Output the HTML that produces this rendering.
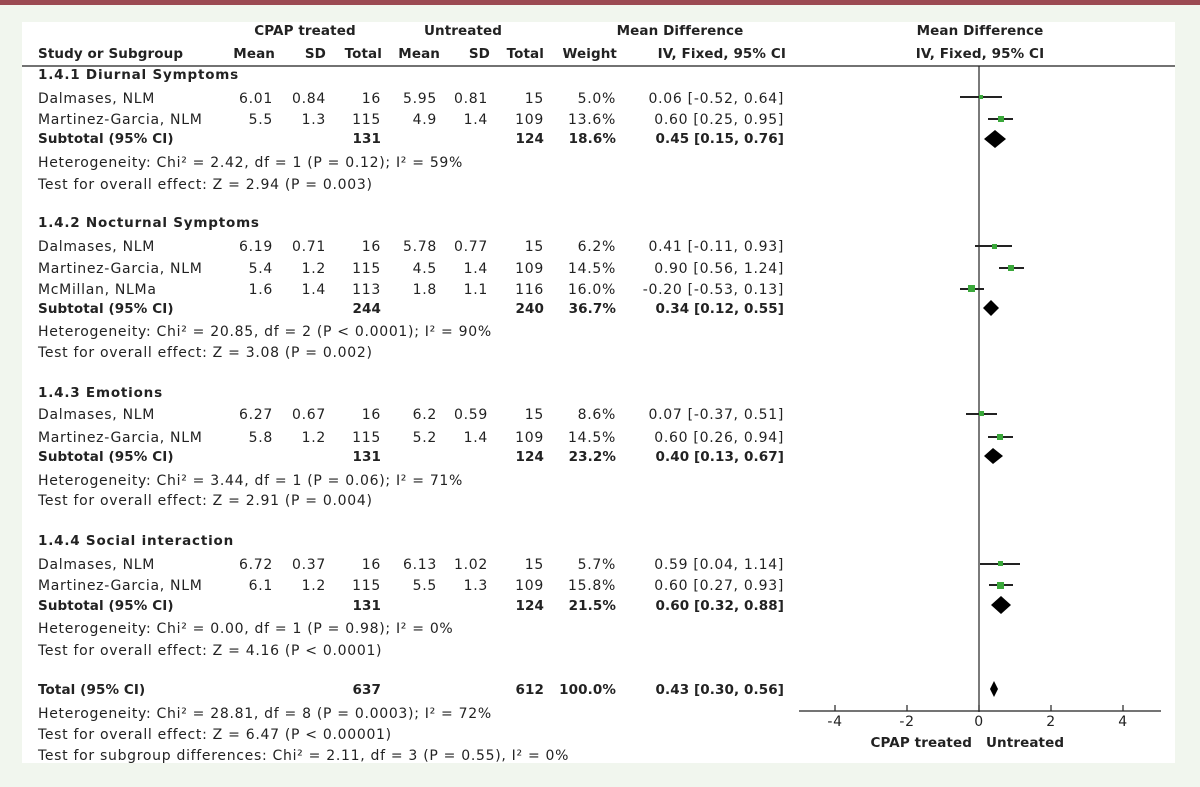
<!DOCTYPE html>
<html><head><meta charset="utf-8"><style>
html,body{margin:0;padding:0;background:#f1f6ee;}
svg{display:block;}
text{font-family:"DejaVu Sans","Liberation Sans",sans-serif;font-size:14px;letter-spacing:0.7px;fill:#222;}
.b{font-weight:bold;font-size:13.5px;letter-spacing:0.1px;}
.e{text-anchor:end;}
.m{text-anchor:middle;}
</style></head><body>
<svg width="1200" height="787" viewBox="0 0 1200 787" xmlns="http://www.w3.org/2000/svg">
<rect x="0" y="0" width="1200" height="787" fill="#f1f6ee"/>
<rect x="0" y="0" width="1200" height="5" fill="#9b4a52"/>
<rect x="22" y="22" width="1153" height="741" fill="#fff"/>
<text class="b m" x="305" y="35">CPAP treated</text>
<text class="b m" x="463" y="35">Untreated</text>
<text class="b m" x="680" y="35">Mean Difference</text>
<text class="b m" x="980" y="35">Mean Difference</text>
<text class="b" x="38" y="58">Study or Subgroup</text>
<text class="b e" x="275" y="58">Mean</text>
<text class="b e" x="326" y="58">SD</text>
<text class="b e" x="382" y="58">Total</text>
<text class="b e" x="440" y="58">Mean</text>
<text class="b e" x="490" y="58">SD</text>
<text class="b e" x="544" y="58">Total</text>
<text class="b e" x="617" y="58">Weight</text>
<text class="b e" x="786" y="58">IV, Fixed, 95% CI</text>
<text class="b m" x="980" y="58">IV, Fixed, 95% CI</text>
<line x1="22" y1="66" x2="1175" y2="66" stroke="#444" stroke-width="1.5"/>
<line x1="979" y1="66" x2="979" y2="712" stroke="#222" stroke-width="1.2"/>
<line x1="799" y1="711" x2="1161" y2="711" stroke="#222" stroke-width="1.2"/>
<g stroke="#222" stroke-width="1.2">
<line x1="835" y1="705" x2="835" y2="711"/><line x1="907" y1="705" x2="907" y2="711"/><line x1="979" y1="705" x2="979" y2="711"/><line x1="1051" y1="705" x2="1051" y2="711"/><line x1="1123" y1="705" x2="1123" y2="711"/>
</g>
<text class="m" x="835" y="726">-4</text><text class="m" x="907" y="726">-2</text><text class="m" x="979" y="726">0</text><text class="m" x="1051" y="726">2</text><text class="m" x="1123" y="726">4</text>
<text class="b e" x="972" y="747">CPAP treated</text>
<text class="b" x="986" y="747">Untreated</text>

<text class="b" x="38" y="79" style="letter-spacing:0.8px">1.4.1 Diurnal Symptoms</text>
<text x="38" y="103">Dalmases, NLM</text><text class="e" x="273" y="103">6.01</text><text class="e" x="326" y="103">0.84</text><text class="e" x="381" y="103">16</text><text class="e" x="437" y="103">5.95</text><text class="e" x="488" y="103">0.81</text><text class="e" x="544" y="103">15</text><text class="e" x="616" y="103">5.0%</text><text class="e" x="784" y="103">0.06 [-0.52, 0.64]</text>
<text x="38" y="124">Martinez-Garcia, NLM</text><text class="e" x="273" y="124">5.5</text><text class="e" x="326" y="124">1.3</text><text class="e" x="381" y="124">115</text><text class="e" x="437" y="124">4.9</text><text class="e" x="488" y="124">1.4</text><text class="e" x="544" y="124">109</text><text class="e" x="616" y="124">13.6%</text><text class="e" x="784" y="124">0.60 [0.25, 0.95]</text>
<text class="b" x="38" y="143">Subtotal (95% CI)</text><text class="b e" x="381" y="143">131</text><text class="b e" x="544" y="143">124</text><text class="b e" x="616" y="143">18.6%</text><text class="b e" x="784" y="143">0.45 [0.15, 0.76]</text>
<text x="38" y="167">Heterogeneity: Chi² = 2.42, df = 1 (P = 0.12); I² = 59%</text>
<text x="38" y="189">Test for overall effect: Z = 2.94 (P = 0.003)</text>

<text class="b" x="38" y="227" style="letter-spacing:0.8px">1.4.2 Nocturnal Symptoms</text>
<text x="38" y="251">Dalmases, NLM</text><text class="e" x="273" y="251">6.19</text><text class="e" x="326" y="251">0.71</text><text class="e" x="381" y="251">16</text><text class="e" x="437" y="251">5.78</text><text class="e" x="488" y="251">0.77</text><text class="e" x="544" y="251">15</text><text class="e" x="616" y="251">6.2%</text><text class="e" x="784" y="251">0.41 [-0.11, 0.93]</text>
<text x="38" y="273">Martinez-Garcia, NLM</text><text class="e" x="273" y="273">5.4</text><text class="e" x="326" y="273">1.2</text><text class="e" x="381" y="273">115</text><text class="e" x="437" y="273">4.5</text><text class="e" x="488" y="273">1.4</text><text class="e" x="544" y="273">109</text><text class="e" x="616" y="273">14.5%</text><text class="e" x="784" y="273">0.90 [0.56, 1.24]</text>
<text x="38" y="294">McMillan, NLMa</text><text class="e" x="273" y="294">1.6</text><text class="e" x="326" y="294">1.4</text><text class="e" x="381" y="294">113</text><text class="e" x="437" y="294">1.8</text><text class="e" x="488" y="294">1.1</text><text class="e" x="544" y="294">116</text><text class="e" x="616" y="294">16.0%</text><text class="e" x="784" y="294">-0.20 [-0.53, 0.13]</text>
<text class="b" x="38" y="313">Subtotal (95% CI)</text><text class="b e" x="381" y="313">244</text><text class="b e" x="544" y="313">240</text><text class="b e" x="616" y="313">36.7%</text><text class="b e" x="784" y="313">0.34 [0.12, 0.55]</text>
<text x="38" y="336">Heterogeneity: Chi² = 20.85, df = 2 (P &lt; 0.0001); I² = 90%</text>
<text x="38" y="357">Test for overall effect: Z = 3.08 (P = 0.002)</text>

<text class="b" x="38" y="397" style="letter-spacing:0.8px">1.4.3 Emotions</text>
<text x="38" y="419">Dalmases, NLM</text><text class="e" x="273" y="419">6.27</text><text class="e" x="326" y="419">0.67</text><text class="e" x="381" y="419">16</text><text class="e" x="437" y="419">6.2</text><text class="e" x="488" y="419">0.59</text><text class="e" x="544" y="419">15</text><text class="e" x="616" y="419">8.6%</text><text class="e" x="784" y="419">0.07 [-0.37, 0.51]</text>
<text x="38" y="442">Martinez-Garcia, NLM</text><text class="e" x="273" y="442">5.8</text><text class="e" x="326" y="442">1.2</text><text class="e" x="381" y="442">115</text><text class="e" x="437" y="442">5.2</text><text class="e" x="488" y="442">1.4</text><text class="e" x="544" y="442">109</text><text class="e" x="616" y="442">14.5%</text><text class="e" x="784" y="442">0.60 [0.26, 0.94]</text>
<text class="b" x="38" y="461">Subtotal (95% CI)</text><text class="b e" x="381" y="461">131</text><text class="b e" x="544" y="461">124</text><text class="b e" x="616" y="461">23.2%</text><text class="b e" x="784" y="461">0.40 [0.13, 0.67]</text>
<text x="38" y="485">Heterogeneity: Chi² = 3.44, df = 1 (P = 0.06); I² = 71%</text>
<text x="38" y="505">Test for overall effect: Z = 2.91 (P = 0.004)</text>

<text class="b" x="38" y="545" style="letter-spacing:0.8px">1.4.4 Social interaction</text>
<text x="38" y="569">Dalmases, NLM</text><text class="e" x="273" y="569">6.72</text><text class="e" x="326" y="569">0.37</text><text class="e" x="381" y="569">16</text><text class="e" x="437" y="569">6.13</text><text class="e" x="488" y="569">1.02</text><text class="e" x="544" y="569">15</text><text class="e" x="616" y="569">5.7%</text><text class="e" x="784" y="569">0.59 [0.04, 1.14]</text>
<text x="38" y="590">Martinez-Garcia, NLM</text><text class="e" x="273" y="590">6.1</text><text class="e" x="326" y="590">1.2</text><text class="e" x="381" y="590">115</text><text class="e" x="437" y="590">5.5</text><text class="e" x="488" y="590">1.3</text><text class="e" x="544" y="590">109</text><text class="e" x="616" y="590">15.8%</text><text class="e" x="784" y="590">0.60 [0.27, 0.93]</text>
<text class="b" x="38" y="610">Subtotal (95% CI)</text><text class="b e" x="381" y="610">131</text><text class="b e" x="544" y="610">124</text><text class="b e" x="616" y="610">21.5%</text><text class="b e" x="784" y="610">0.60 [0.32, 0.88]</text>
<text x="38" y="633">Heterogeneity: Chi² = 0.00, df = 1 (P = 0.98); I² = 0%</text>
<text x="38" y="655">Test for overall effect: Z = 4.16 (P &lt; 0.0001)</text>

<text class="b" x="38" y="694">Total (95% CI)</text><text class="b e" x="381" y="694">637</text><text class="b e" x="544" y="694">612</text><text class="b e" x="616" y="694">100.0%</text><text class="b e" x="784" y="694">0.43 [0.30, 0.56]</text>
<text x="38" y="718">Heterogeneity: Chi² = 28.81, df = 8 (P = 0.0003); I² = 72%</text>
<text x="38" y="739">Test for overall effect: Z = 6.47 (P &lt; 0.00001)</text>
<text x="38" y="760">Test for subgroup differences: Chi² = 2.11, df = 3 (P = 0.55), I² = 0%</text>

<g stroke="#222" stroke-width="2">
<line x1="960" y1="97" x2="1002" y2="97"/>
<line x1="988" y1="119" x2="1013" y2="119"/>
<line x1="975" y1="246" x2="1012" y2="246"/>
<line x1="999" y1="268" x2="1024" y2="268"/>
<line x1="960" y1="289" x2="984" y2="289"/>
<line x1="966" y1="414" x2="997" y2="414"/>
<line x1="988" y1="437" x2="1013" y2="437"/>
<line x1="980" y1="564" x2="1020" y2="564"/>
<line x1="989" y1="585" x2="1013" y2="585"/>
</g>
<g fill="#3aa83a">
<rect x="979" y="95" width="4" height="4"/>
<rect x="998" y="116" width="6" height="6"/>
<rect x="992" y="244" width="5" height="5"/>
<rect x="1008" y="265" width="6" height="6"/>
<rect x="968" y="285" width="7" height="7"/>
<rect x="979" y="411" width="5" height="5"/>
<rect x="997" y="434" width="6" height="6"/>
<rect x="998" y="561" width="5" height="5"/>
<rect x="997" y="582" width="7" height="7"/>
</g>
<g fill="#000">
<polygon points="984,139 995,130 1006,139 995,148"/>
<polygon points="983,308 991,300 999,308 991,316"/>
<polygon points="984,456 993,448 1003,456 993,464"/>
<polygon points="991,605 1001,596 1011,605 1001,614"/>
<polygon points="990,689 994,681 998,689 994,697"/>
</g>
</svg>
</body></html>
